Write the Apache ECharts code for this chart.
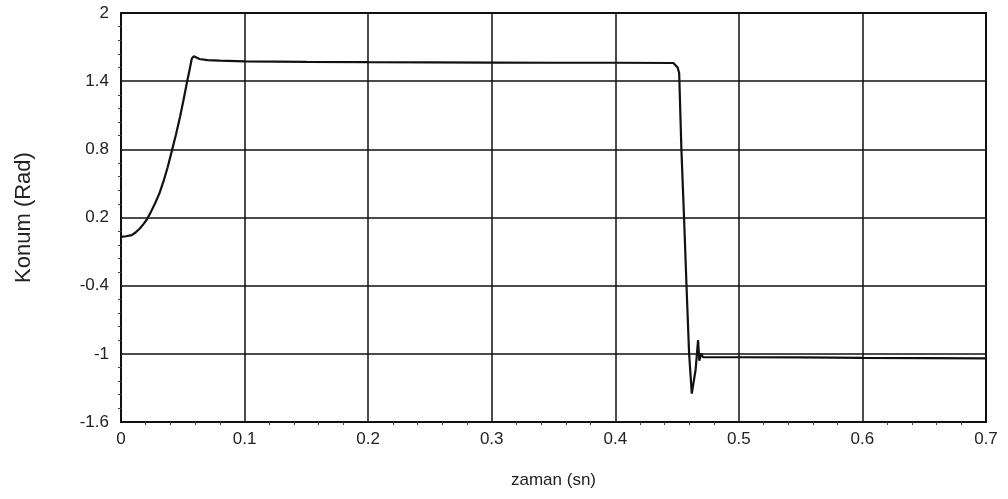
<!DOCTYPE html>
<html>
<head>
<meta charset="utf-8">
<script src="https://cdn.jsdelivr.net/npm/echarts@6/dist/echarts.min.js"></script>
<style>
    html, body { margin: 0; padding: 0; background: #fff; }
    #chart { width: 1008px; height: 499px; }
</style>
</head>
<body>
<div id="chart"></div>
<script>
// zaman (sn)
var timeValues = [0, 0.004, 0.0087, 0.012, 0.0154, 0.018, 0.0208, 0.024, 0.0276, 0.031, 0.0343, 0.0377,
    0.041, 0.0445, 0.0478, 0.0505, 0.0532, 0.0553, 0.0573, 0.059, 0.0635, 0.07, 0.08, 0.1, 0.15,
    0.2, 0.25, 0.3, 0.35, 0.4, 0.447,
    0.4505, 0.4517, 0.4535, 0.4557, 0.4576, 0.4597, 0.4619, 0.465, 0.467, 0.468, 0.4695, 0.471,
    0.5, 0.55, 0.6, 0.65, 0.7];
// Konum (Rad)
var positionValues = [0.03, 0.035, 0.045, 0.07, 0.105, 0.14, 0.18, 0.245, 0.325, 0.41, 0.515, 0.64,
    0.78, 0.93, 1.087, 1.23, 1.38, 1.49, 1.6, 1.62, 1.595, 1.585, 1.58, 1.575, 1.57,
    1.567, 1.565, 1.563, 1.562, 1.562, 1.56,
    1.52, 1.47, 0.8, 0.18, -0.39, -0.99, -1.35, -1.14, -0.88, -1.06, -1.0, -1.03,
    -1.03, -1.032, -1.035, -1.037, -1.04];

var xTicks = [0, 0.1, 0.2, 0.3, 0.4, 0.5, 0.6, 0.7];
var yTicks = [-1.6, -1, -0.4, 0.2, 0.8, 1.4, 2];

var seriesData = [];
for (let i = 0; i < timeValues.length; i++) {
    seriesData.push([timeValues[i], positionValues[i]]);
}

function tickFormatter(ticks) {
    return function (v) {
        var hit = ticks.find(function (t) { return Math.abs(t - v) < 1e-9; });
        return hit === undefined ? '' : String(hit);
    };
}

var fontFamily = '"Liberation Sans", Arial, sans-serif';
var chart = echarts.init(document.getElementById('chart'));

var option = {
    backgroundColor: '#fff',
    animation: false,
    grid: {
        left: 121,
        right: 22,
        top: 13,
        bottom: 77,
        show: true,
        borderColor: '#111',
        borderWidth: 2
    },
    xAxis: {
        type: 'value',
        min: 0,
        max: 0.7,
        interval: 0.1,
        name: 'zaman (sn)',
        nameLocation: 'middle',
        nameGap: 50,
        nameTextStyle: { color: '#222', fontSize: 17, fontFamily: fontFamily },
        axisLine: { show: true, onZero: false, lineStyle: { color: '#111', width: 2 } },
        axisTick: { show: false },
        minorTick: { show: true, splitNumber: 5, length: 3, lineStyle: { color: '#444' } },
        axisLabel: {
            color: '#222', fontSize: 17, fontFamily: fontFamily, margin: 9,
            formatter: tickFormatter(xTicks)
        },
        splitLine: { show: true, lineStyle: { color: '#111', width: 1.5 } }
    },
    yAxis: {
        type: 'value',
        min: -1.6,
        max: 2,
        interval: 0.6,
        name: 'Konum (Rad)',
        nameLocation: 'middle',
        nameGap: 86,
        nameTextStyle: { color: '#222', fontSize: 22, fontFamily: fontFamily },
        axisLine: { show: true, onZero: false, lineStyle: { color: '#111', width: 2 } },
        axisTick: { show: false },
        minorTick: { show: true, splitNumber: 5, length: 3, lineStyle: { color: '#444' } },
        axisLabel: {
            color: '#222', fontSize: 17, fontFamily: fontFamily, margin: 12,
            formatter: tickFormatter(yTicks)
        },
        splitLine: { show: true, lineStyle: { color: '#111', width: 1.5 } }
    },
    series: [{
        type: 'line',
        data: seriesData,
        showSymbol: false,
        smooth: false,
        lineStyle: { color: '#111', width: 2.2 },
        clip: true
    }]
};

chart.setOption(option);
</script>
</body>
</html>
